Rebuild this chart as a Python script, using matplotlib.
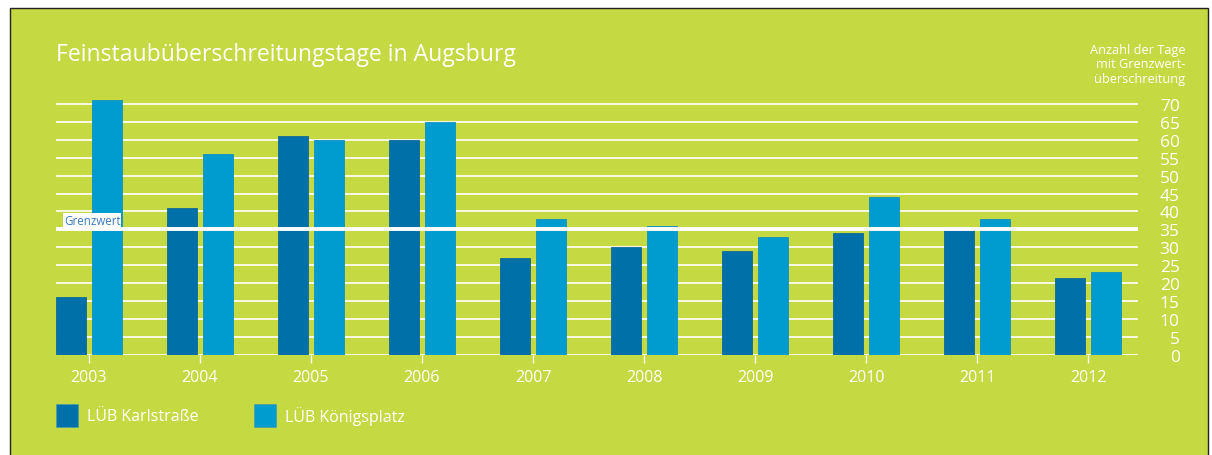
import numpy as np
from matplotlib import pyplot as plt
from matplotlib.patches import Rectangle

years = ['2003', '2004', '2005', '2006', '2007', '2008', '2009', '2010', '2011', '2012']
karlstrasse = [16, 41, 61, 60, 27, 30, 29, 34, 35, 21.5]
koenigsplatz = [71, 56, 60, 65, 38, 36, 33, 44, 38, 23]
grenzwert = 35
y_ticks = list(range(0, 75, 5))

green = '#c5d943'
dark_blue = '#0070a8'
light_blue = '#009ccf'

plt.rcParams['font.family'] = ['Open Sans', 'DejaVu Sans']

fig = plt.figure(figsize=(12.12, 4.56), dpi=100)
fig.patch.set_facecolor('white')
# green panel with thin dark frame
fig.add_artist(Rectangle((10 / 1212, -0.1), 1198 / 1212, 1.08, transform=fig.transFigure,
                         facecolor=green, edgecolor='#222222', linewidth=1, zorder=0))

ax = fig.add_axes([56 / 1212, 0.22, 1082 / 1212, 0.5653])
ax.set_facecolor('none')

x = np.arange(len(years))
ax.bar(x - 0.165, karlstrasse, width=0.27, color=dark_blue, edgecolor='#10689a', linewidth=0.6, zorder=2)
ax.bar(x + 0.165, koenigsplatz, width=0.27, color=light_blue, edgecolor='#1390c0', linewidth=0.6, zorder=2)

ax.axhline(grenzwert, color='white', linewidth=2.8, zorder=3)
ax.text(-0.225, grenzwert + 0.6, 'Grenzwert', color='#3a78bd', fontsize=8.3, ha='left', va='bottom',
        bbox=dict(facecolor='white', edgecolor='none', pad=0.6), zorder=4)

ax.set_xlim(-0.297, 9.45)
ax.set_ylim(0, 72)
ax.set_yticks(y_ticks)
ax.yaxis.grid(True, color='white', linewidth=1.2, zorder=1)
ax.set_axisbelow(True)
for s in ax.spines.values():
    s.set_visible(False)

ax.yaxis.tick_right()
ax.tick_params(axis='y', length=0, pad=30, labelsize=12.5, labelcolor='white')
for lab in ax.get_yticklabels():
    lab.set_horizontalalignment('right')

ax.set_xticks(x)
ax.set_xticklabels(years)
ax.tick_params(axis='x', length=6, width=1, color='white', pad=4, labelsize=11.5, labelcolor='white')

fig.text(56 / 1212, 1 - 55 / 456, 'Feinstaubüberschreitungstage in Augsburg', color='white',
         fontsize=16.6, ha='left', va='center')
fig.text(1185 / 1212, 1 - 65 / 456, 'Anzahl der Tage\nmit Grenzwert-\nüberschreitung', color='white',
         fontsize=9.2, ha='right', va='center', multialignment='right', linespacing=1.15)

# legend
legend_items = [('LÜB Karlstraße', dark_blue, 56), ('LÜB Königsplatz', light_blue, 254)]
for label, color, px in legend_items:
    fig.add_artist(Rectangle((px / 1212, 1 - 428 / 456), 22 / 1212, 23 / 456, transform=fig.transFigure,
                             facecolor=color, edgecolor='#4a9ab0', linewidth=0.5))
    fig.text((px + 31) / 1212, 1 - 417 / 456, label, color='white', fontsize=11.5, ha='left', va='center')

plt.savefig('out.png', dpi=100, facecolor=fig.get_facecolor())
